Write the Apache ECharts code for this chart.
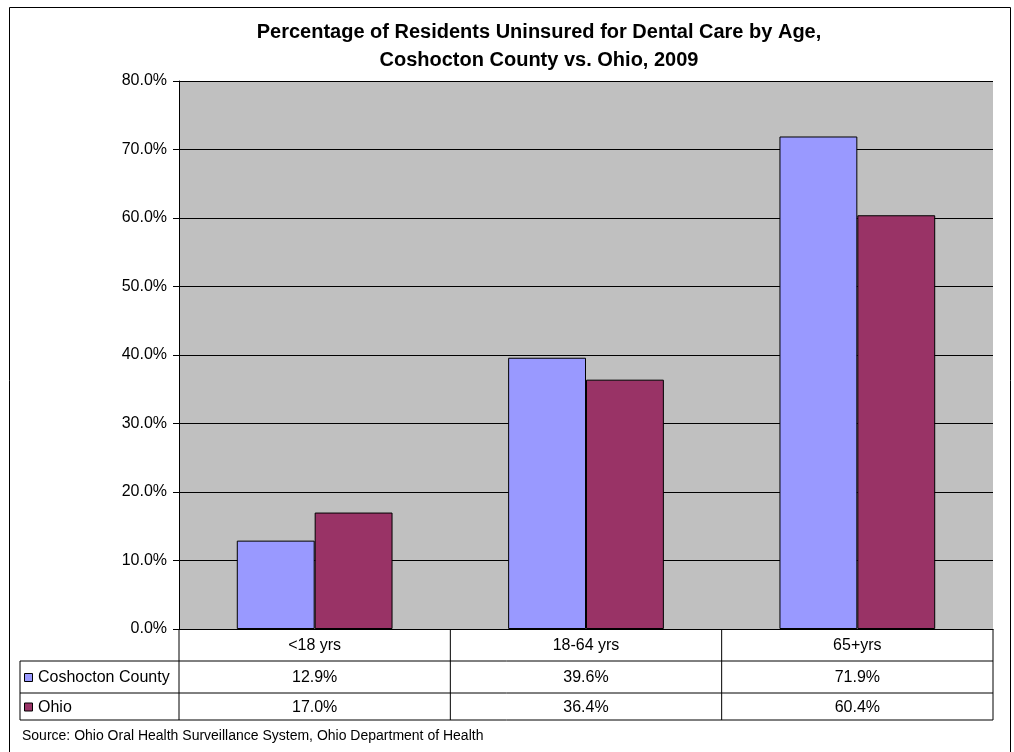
<!DOCTYPE html>
<html><head><meta charset="utf-8">
<script src="https://cdn.jsdelivr.net/npm/echarts@6/dist/echarts.min.js"></script>
<style>html,body{margin:0;padding:0;background:#fff}#c{width:1014px;height:752px}</style>
</head><body><div id="c"></div>
<script>
const titleLines = ['Percentage of Residents Uninsured for Dental Care by Age,', 'Coshocton County vs. Ohio, 2009'];
const categories = ['<18 yrs', '18-64 yrs', '65+yrs'];
const seriesNames = ['Coshocton County', 'Ohio'];
const coshocton = [12.9, 39.6, 71.9];
const ohio = [17.0, 36.4, 60.4];
const sourceText = 'Source: Ohio Oral Health Surveillance System, Ohio Department of Health';

const colors = ['#9999FF', '#993366'];
const values = [coshocton, ohio];
const FONT = 'Liberation Sans, Arial, sans-serif';
const G = {left: 179, right: 21, top: 81, bottom: 123};
const W = 1014, H = 752;
const plotL = G.left, plotR = W - G.right, plotB = H - G.bottom;
const rowY = [plotB, 661, 693, 720];
const tableL = 20;

const chart = echarts.init(document.getElementById('c'), null, {renderer: 'canvas'});
const option = {
  animation: false,
  backgroundColor: '#fff',
  title: {
    text: titleLines.join('\n'), left: 534, top: 13, textAlign: 'center',
    textStyle: {fontFamily: FONT, fontSize: 20, fontWeight: 'bold', color: '#000', lineHeight: 28}
  },
  grid: {left: G.left, right: G.right, top: G.top, bottom: G.bottom, show: true, backgroundColor: '#C0C0C0', borderWidth: 0},
  xAxis: {
    type: 'category', data: categories,
    axisLine: {show: true, lineStyle: {color: '#000', width: 1}},
    axisTick: {show: false}, axisLabel: {show: false}
  },
  yAxis: {
    type: 'value', min: 0, max: 80, interval: 10,
    axisLine: {show: true, lineStyle: {color: '#000', width: 1}},
    axisTick: {show: true, length: 6, lineStyle: {color: '#000'}},
    axisLabel: {fontFamily: FONT, fontSize: 16, color: '#000', margin: 12, formatter: v => v.toFixed(1) + '%'},
    splitLine: {show: true, lineStyle: {color: '#000', width: 1}}
  },
  series: seriesNames.map((n, i) => ({
    name: n, type: 'bar', data: values[i], barWidth: '28.7%', barGap: '0%',
    itemStyle: {color: colors[i], borderColor: '#000', borderWidth: 1}
  }))
};
chart.setOption(option);

// data table
const g = [];
const line = (x1, y1, x2, y2) => g.push({type: 'line', shape: {x1, y1, x2, y2}, style: {stroke: '#000', lineWidth: 1}, silent: true});
const txt = (x, y, t, align, size) => g.push({type: 'text', x, y, style: {text: t, fontFamily: FONT, fontSize: size || 16, fill: '#000', align: align || 'center', verticalAlign: 'middle'}, silent: true});
const bounds = [plotL];
for (let i = 0; i < categories.length; i++) {
  const c = chart.convertToPixel({xAxisIndex: 0}, categories[i]);
  const half = (plotR - plotL) / categories.length / 2;
  bounds.push(c + half);
}
bounds.forEach(x => line(x, rowY[0], x, rowY[3]));
line(tableL, rowY[1], tableL, rowY[3]);
line(tableL, rowY[1], plotR, rowY[1]);
line(tableL, rowY[2], plotR, rowY[2]);
line(tableL, rowY[3], plotR, rowY[3]);
categories.forEach((c, i) => {
  const cx = chart.convertToPixel({xAxisIndex: 0}, c);
  txt(cx, (rowY[0] + rowY[1]) / 2 + 1, c);
  values.forEach((arr, s) => txt(cx, (rowY[s + 1] + rowY[s + 2]) / 2 + 1, arr[i].toFixed(1) + '%'));
});
seriesNames.forEach((n, s) => {
  const cy = (rowY[s + 1] + rowY[s + 2]) / 2 + 1;
  g.push({type: 'rect', shape: {x: 24.5, y: cy - 4.5, width: 8, height: 8}, style: {fill: colors[s], stroke: '#000', lineWidth: 1}, silent: true});
  txt(38, cy, n, 'left');
});
txt(22, 736, sourceText, 'left', 14);
g.push({type: 'rect', shape: {x: 9.5, y: 7.5, width: 1001, height: 800}, style: {fill: 'none', stroke: '#000', lineWidth: 1}, silent: true});
chart.setOption({graphic: g});
</script></body></html>
